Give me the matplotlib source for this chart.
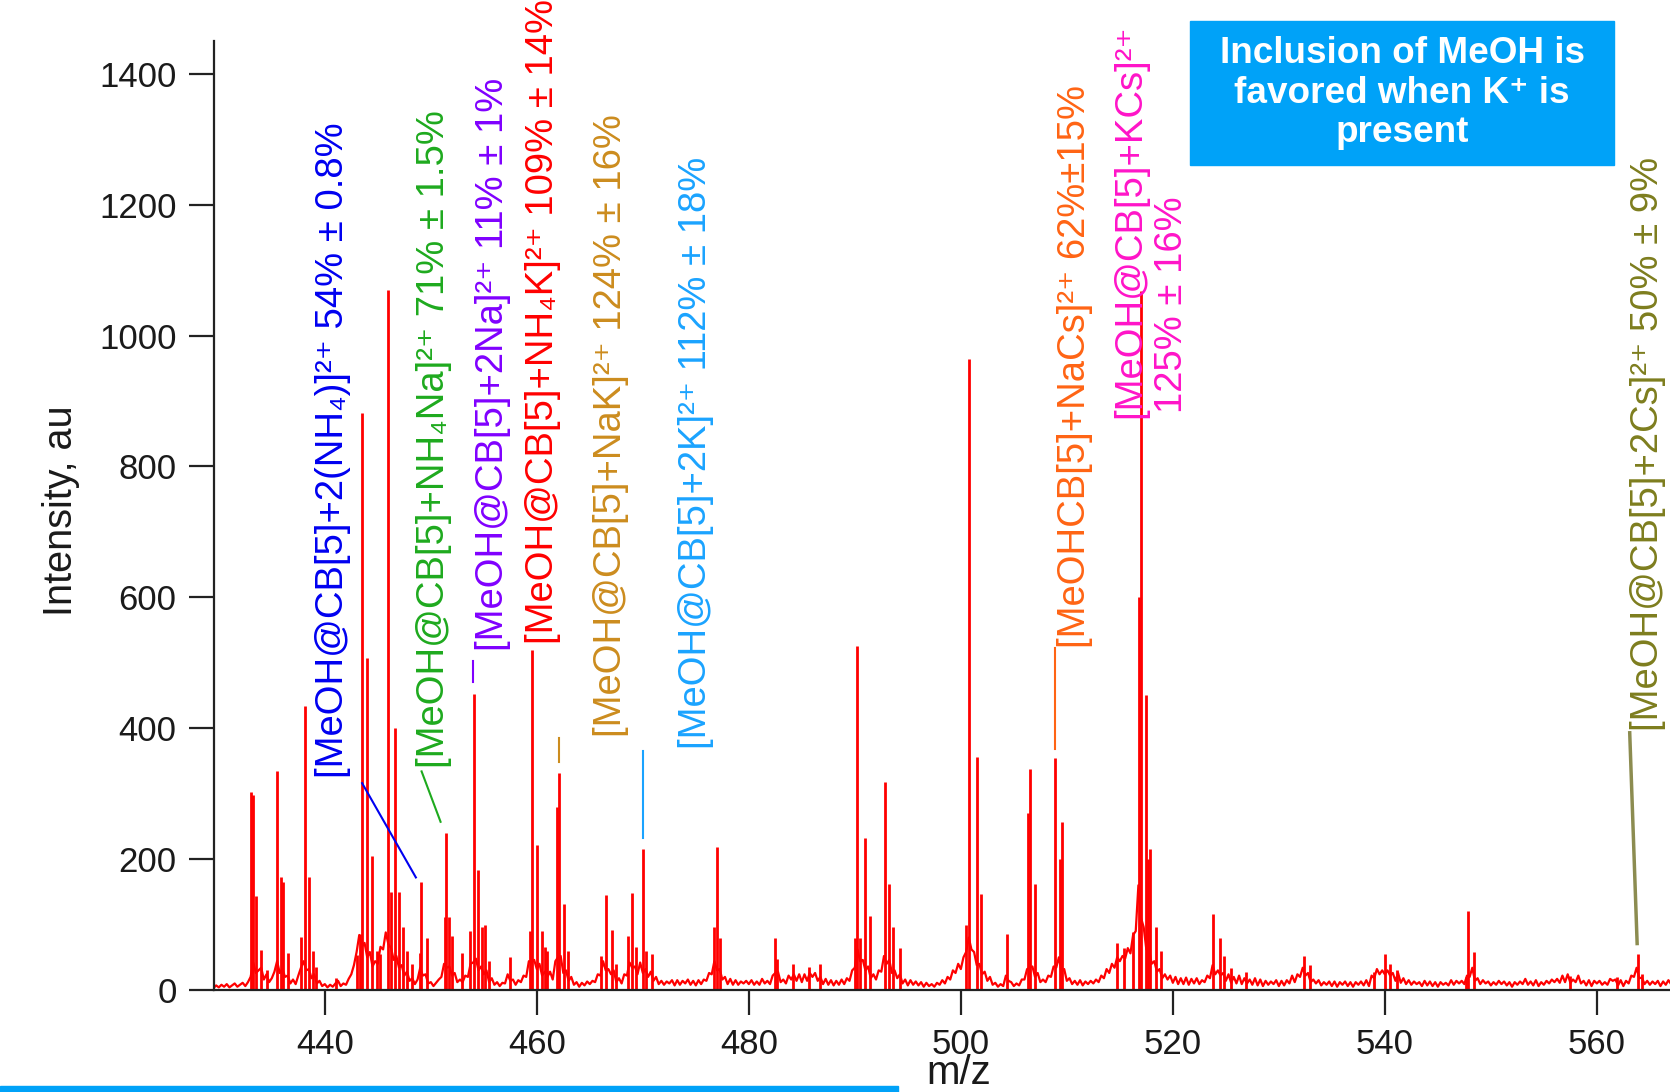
import matplotlib
matplotlib.use('Agg')
import matplotlib.pyplot as plt
from matplotlib import font_manager as fm
from matplotlib.patches import Rectangle
import numpy as np

# ---------------- data ----------------
# noise / baseline trace sampled every 0.25 m/z starting at 429.5
baseline_start = 429.5
baseline_step = 0.25
baseline_int = [
    3, 7, 4, 8, 5, 9, 4, 7, 10, 5, 8, 11, 6, 12,
    20, 42, 26, 30, 34, 16, 24, 12, 18, 28, 44, 26, 32, 20, 22, 10,
    16, 9, 22, 34, 44, 30, 32, 18, 24, 10, 14, 6, 9, 4, 8, 5,
    10, 14, 6, 10, 8, 17, 24, 38, 58, 84, 66, 72, 50, 58, 36, 44,
    40, 66, 62, 88, 70, 64, 46, 52, 34, 38, 22, 28, 14, 18, 9, 16,
    34, 22, 24, 10, 12, 6, 11, 16, 20, 40, 34, 36, 22, 26, 12, 16,
    12, 22, 20, 40, 42, 48, 30, 36, 24, 30, 12, 18, 8, 12, 6, 11,
    10, 24, 14, 16, 8, 15, 12, 22, 20, 44, 42, 46, 32, 40, 22, 28,
    20, 28, 16, 44, 50, 52, 26, 30, 14, 20, 8, 12, 5, 11, 7, 13,
    9, 14, 12, 24, 22, 44, 30, 32, 24, 30, 12, 18, 10, 24, 22, 42,
    34, 36, 24, 42, 26, 32, 20, 28, 14, 20, 9, 14, 8, 13, 10, 15,
    7, 15, 8, 14, 10, 16, 8, 14, 7, 15, 9, 16, 14, 26, 24, 44,
    30, 32, 16, 20, 9, 17, 8, 15, 8, 13, 10, 14, 9, 15, 8, 13,
    8, 17, 10, 14, 9, 22, 26, 28, 12, 16, 10, 22, 16, 24, 14, 24,
    12, 24, 14, 26, 20, 26, 14, 20, 9, 17, 8, 15, 7, 14, 8, 16,
    9, 18, 14, 30, 34, 62, 44, 46, 30, 36, 18, 24, 16, 30, 28, 52,
    40, 46, 26, 30, 18, 24, 10, 16, 7, 15, 8, 13, 7, 12, 5, 11,
    6, 9, 5, 11, 8, 15, 10, 20, 16, 30, 26, 40, 32, 50, 58, 80,
    62, 58, 38, 40, 24, 28, 14, 20, 8, 11, 5, 9, 6, 22, 14, 12,
    6, 10, 7, 16, 16, 32, 34, 36, 20, 26, 12, 16, 12, 22, 20, 36,
    34, 50, 28, 32, 14, 18, 9, 14, 8, 15, 7, 13, 9, 14, 10, 16,
    12, 22, 18, 32, 26, 40, 34, 50, 44, 52, 48, 64, 56, 84, 90, 160,
    110, 96, 62, 64, 40, 44, 28, 32, 18, 24, 16, 22, 11, 20, 9, 18,
    9, 19, 8, 17, 10, 18, 9, 15, 12, 22, 18, 38, 24, 30, 22, 26,
    14, 24, 11, 20, 10, 22, 9, 18, 10, 16, 8, 18, 7, 16, 6, 14,
    8, 13, 9, 15, 6, 14, 7, 15, 10, 22, 12, 24, 20, 34, 22, 26,
    12, 16, 10, 15, 7, 12, 8, 13, 6, 13, 5, 12, 8, 13, 6, 12,
    5, 12, 8, 13, 7, 15, 6, 22, 18, 32, 24, 30, 24, 30, 22, 26,
    14, 26, 11, 18, 9, 15, 8, 13, 9, 12, 6, 14, 7, 13, 6, 12,
    5, 12, 8, 11, 7, 15, 8, 14, 10, 14, 9, 22, 20, 34, 14, 18,
    9, 15, 10, 13, 7, 12, 8, 14, 9, 13, 7, 12, 5, 12, 8, 13,
    9, 17, 8, 13, 7, 15, 6, 12, 8, 14, 10, 16, 12, 17, 11, 22,
    12, 24, 11, 16, 12, 22, 10, 14, 7, 15, 6, 14, 10, 14, 8, 12,
    8, 17, 14, 16, 7, 15, 6, 14, 10, 22, 20, 34, 18, 19, 9, 14,
    8, 13, 9, 14, 6, 13, 8, 15, 9,
]

# peaks (m/z, intensity)
peak_mz = [
    433.02, 433.22, 433.55, 434.0, 434.5, 435.5, 435.9, 436.07, 436.5, 437.8,
    438.1, 438.49, 438.9, 439.2, 441.1, 443.0, 443.3, 443.55, 444.0, 444.46,
    444.9, 445.2, 445.93, 446.2, 446.6, 447.0, 447.39, 447.8, 448.2, 448.97,
    449.12, 449.6, 451.3, 451.48, 451.7, 452.0, 452.9, 453.7, 454.06, 454.47,
    454.85, 455.1, 455.5, 457.46, 459.35, 459.5, 459.98, 460.45, 460.8, 461.0,
    461.95, 462.08, 462.55, 462.9, 466.1, 466.5, 467.05, 467.5, 468.6, 468.94,
    469.4, 469.98, 470.3, 470.9, 476.7, 476.98, 477.3, 482.5, 482.7, 484.2,
    485.7, 486.7, 490.05, 490.25, 490.5, 490.95, 491.4, 492.86, 493.27, 493.57,
    494.3, 500.5, 500.81, 501.5, 501.9, 504.4, 506.3, 506.53, 506.98, 508.9,
    509.4, 509.58, 514.7, 515.4, 516.2, 516.8, 516.97, 517.45, 517.7, 517.86,
    518.4, 518.9, 523.83, 524.47, 524.8, 525.5, 526.9, 532.33, 532.9, 538.93,
    539.97, 540.45, 541.1, 547.7, 547.84, 548.37, 557.5, 561.9, 563.85, 564.3,
]
peak_int = [
    303, 298, 143, 61, 30, 335, 173, 165, 56, 81,
    434, 173, 60, 35, 18, 53, 86, 882, 508, 205,
    60, 55, 1070, 150, 400, 150, 97, 60, 40, 56,
    165, 80, 112, 240, 112, 82, 56, 90, 453, 183,
    96, 100, 45, 50, 90, 520, 221, 90, 65, 60,
    280, 331, 132, 60, 52, 145, 92, 40, 82, 148,
    66, 216, 60, 55, 97, 219, 80, 80, 48, 40,
    35, 40, 80, 526, 80, 232, 113, 318, 162, 97,
    64, 100, 964, 356, 146, 85, 270, 338, 162, 354,
    200, 256, 72, 64, 89, 600, 1068, 451, 200, 215,
    97, 60, 116, 79, 52, 33, 28, 52, 38, 27,
    55, 40, 30, 20, 120, 58, 22, 20, 55, 25,
]

x_ticks = [440, 460, 480, 500, 520, 540, 560]
y_ticks = [0, 200, 400, 600, 800, 1000, 1200, 1400]

label_texts = [
    '[MeOH@CB[5]+2(NH\u2084)]\u00b2\u207a 54% ± 0.8%',
    '[MeOH@CB[5]+NH\u2084Na]\u00b2\u207a 71% ± 1.5%',
    '[MeOH@CB[5]+2Na]\u00b2\u207a 11% ± 1%',
    '[MeOH@CB[5]+NH\u2084K]\u00b2\u207a 109% ± 14%',
    '[MeOH@CB[5]+NaK]\u00b2\u207a 124% ± 16%',
    '[MeOH@CB[5]+2K]\u00b2\u207a 112% ± 18%',
    '[MeOHCB[5]+NaCs]\u00b2\u207a 62%±15%',
    '[MeOH@CB[5]+KCs]\u00b2\u207a',
    '125% ± 16%',
    '[MeOH@CB[5]+2Cs]\u00b2\u207a 50% ± 9%',
]

# ---------------- layout / style ----------------
label_pos = [(441.70, 324), (451.23, 339), (456.77, 518), (461.49, 529),
             (467.93, 387), (475.96, 368), (511.73, 523), (516.92, 874),
             (520.88, 882), (565.80, 396)]
label_colors = ['#0000F0', '#1EAA1E', '#8000FF', '#FF0000', '#CC8C1E',
                '#1AA3FF', '#FF6414', '#FF14C8', '#FF14C8', '#7D7D1E']
leaders = [((443.52, 448.59), (316, 172), '#0000F0', 1.5),
           ((449.13, 450.92), (334, 257), '#1EAA1E', 1.5),
           ((454.0, 454.0), (502, 471), '#8000FF', 1.5),
           ((462.08, 462.08), (385, 349), '#CC8C1E', 1.5),
           ((469.98, 469.98), (365, 232), '#1AA3FF', 1.5),
           ((508.85, 508.85), (523, 368), '#FF6414', 1.5),
           ((563.1, 563.8), (393, 71), '#8C8C50', 2.5)]

names = {f.name for f in fm.fontManager.ttflist}
NARROW = 'Liberation Sans Narrow' if 'Liberation Sans Narrow' in names else 'Liberation Sans'
NSIZE = 33 if NARROW == 'Liberation Sans Narrow' else 27.5
YSIZE = 34 if NARROW == 'Liberation Sans Narrow' else 28.5

plt.rcParams['font.family'] = ['Liberation Sans', 'DejaVu Sans']

W, H = 1670, 1092
fig = plt.figure(figsize=(W / 100, H / 100), dpi=100)
ax = fig.add_axes([213.5 / W, 1 - 990 / H, 1 - 213.5 / W, (990 - 41) / H])

grid = baseline_start + baseline_step * np.arange(len(baseline_int))
ax.plot(grid, baseline_int, color='#FF0000', lw=1.6)
ax.vlines(peak_mz, 0, peak_int, color='#FF0000', lw=2.0)

ax.set_xlim(429.5, 566.9)
ax.set_ylim(0, 1450)
for s in ('top', 'right'):
    ax.spines[s].set_visible(False)
for s in ('left', 'bottom'):
    ax.spines[s].set_linewidth(1.6)
    ax.spines[s].set_color('#222222')
ax.set_xticks(x_ticks)
ax.set_yticks(y_ticks)
ax.tick_params(axis='both', length=18, width=1.6, color='#222222',
               labelsize=25, labelcolor='#1a1a1a')
ax.tick_params(axis='x', pad=9.0)
ax.tick_params(axis='y', pad=8.5)

for (lx, ly), txt, col in zip(label_pos, label_texts, label_colors):
    ax.text(lx, ly, txt, rotation=90, rotation_mode='anchor', ha='left',
            va='baseline', color=col, fontsize=NSIZE,
            family=[NARROW, 'DejaVu Sans'])

for xs, ys, col, lw in leaders:
    ax.plot(xs, ys, color=col, lw=lw)

# y label and x label
fig.text(61 / W, 1 - 511 / H, 'Intensity, au', rotation=90, ha='center',
         va='center', fontsize=YSIZE, family=[NARROW, 'DejaVu Sans'],
         color='#1a1a1a')
fig.text(959 / W, 1 - 1084 / H, 'm/z', ha='center', va='baseline',
         fontsize=29, family=['Liberation Sans', 'DejaVu Sans'], color='#1a1a1a')

# blue box with message
BOX = '#00A2F8'
fig.patches.append(Rectangle((1190 / W, 1 - 165 / H), 424 / W, 144 / H,
                             transform=fig.transFigure, color=BOX, zorder=5))
for txt, yb in [('Inclusion of MeOH is', 63), ('favored when K\u207A is', 103),
                ('present', 142)]:
    fig.text(1402 / W, 1 - yb / H, txt, ha='center', va='baseline',
             color='white', fontsize=26.6, weight='bold', zorder=6,
             family=['Liberation Sans', 'DejaVu Sans'])

# blue bar at bottom left
fig.patches.append(Rectangle((0, 0), 898 / W, 6 / H,
                             transform=fig.transFigure, color=BOX, zorder=5))

fig.savefig('out.png', dpi=100)
